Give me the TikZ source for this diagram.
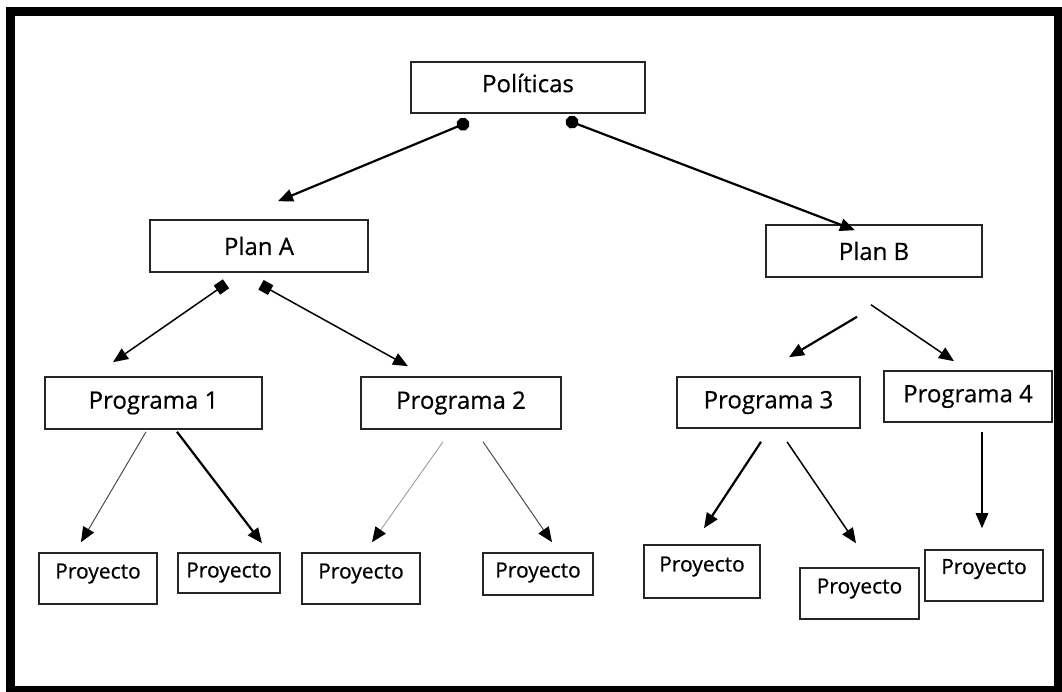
\documentclass[tikz,border=0pt]{standalone}
\usepackage{fontspec}
\setmainfont{Open Sans}[FakeBold=0.5]
\usetikzlibrary{arrows.meta}
\begin{document}
\begin{tikzpicture}[x=1pt,y=-1pt,
  box/.style={draw=black!85, line width=1.6pt, rectangle, inner sep=0pt, fill=white},
  big/.style={box, font=\fontsize{24}{28}\selectfont},
  small/.style={box, font=\fontsize{21}{25}\selectfont, text depth=15pt},
  tip/.style={-{Triangle[length=15pt,width=12.5pt,color=black]}},
  thick2/.style={line width=2.2pt},
  mid/.style={line width=1.5pt},
  thin1/.style={line width=1pt, draw=black!70},
  thin0/.style={line width=1pt, draw=black!35}]
\useasboundingbox (0,0) rectangle (1062,692);
\clip (0,0) rectangle (1062,692);
\fill[white] (0,0) rectangle (1062,692);
\draw[line width=9pt] (10.5,11.5) rectangle (1058,690);

\node[big, minimum width=234pt, minimum height=51pt, text depth=9pt] (pol) at (528,87.5) {Políticas};
\node[big, minimum width=218pt, minimum height=52pt] (planA) at (259,246) {Plan A};
\node[big, minimum width=216pt, minimum height=52pt] (planB) at (874,251) {Plan B};
\node[big, minimum width=217pt, minimum height=52pt] (prog1) at (153.5,403) {Programa 1};
\node[big, minimum width=200pt, minimum height=52pt] (prog2) at (461,403) {Programa 2};
\node[big, minimum width=183pt, minimum height=51pt] (prog3) at (768.5,402.5) {Programa 3};
\node[big, minimum width=168pt, minimum height=51pt] (prog4) at (968,396.5) {Programa 4};
\node[small, minimum width=118pt, minimum height=51pt] (pr1) at (98,578.5) {Proyecto};
\node[small, minimum width=102pt, minimum height=40pt, text depth=6pt] (pr2) at (229,573) {Proyecto};
\node[small, minimum width=118pt, minimum height=51pt] (pr3) at (361,578.5) {Proyecto};
\node[small, minimum width=110pt, minimum height=42pt, text depth=8pt] (pr4) at (538,574) {Proyecto};
\node[small, minimum width=116pt, minimum height=53pt] (pr5) at (702,571.5) {Proyecto};
\node[small, minimum width=119pt, minimum height=51pt] (pr6) at (859.5,593.5) {Proyecto};
\node[small, minimum width=118pt, minimum height=51pt, text depth=18pt] (pr7) at (984,575.5) {Proyecto};

\draw[thick2, {Circle[length=13pt]}-{Triangle[length=15pt,width=12.5pt]}]
  ([shift={(-59,8)}]pol.south) -- ([shift={(19,-18)}]planA.north);
\draw[thick2, {Circle[length=13pt]}-{Triangle[length=15pt,width=12.5pt]}]
  ([shift={(38,6)}]pol.south) -- ([shift={(-19,6)}]planB.north);
\draw[mid, {Square[length=11pt,width=11pt]}-{Triangle[length=15pt,width=12.5pt]}]
  ([shift={(-33,11)}]planA.south) -- ([shift={(-40.5,-14)}]prog1.north);
\draw[mid, {Square[length=11pt,width=11pt]}-{Triangle[length=15pt,width=12.5pt]}]
  ([shift={(2,12)}]planA.south) -- ([shift={(-53,-10)}]prog2.north);
\draw[thick2, tip] ([shift={(-17,39)}]planB.south) -- ([shift={(20.5,-19)}]prog3.north);
\draw[mid, tip] ([shift={(-3,27)}]planB.south) -- ([shift={(-14,-9)}]prog4.north);
\draw[thin1, tip] ([shift={(-7.5,2)}]prog1.south) -- ([shift={(-17,-10)}]pr1.north);
\draw[thick2, tip] ([shift={(23.5,2)}]prog1.south) -- ([shift={(33,-9)}]pr2.north);
\draw[thin0, tip] ([shift={(-18,12)}]prog2.south) -- ([shift={(11,-10)}]pr3.north);
\draw[thin1, tip] ([shift={(22,12)}]prog2.south) -- ([shift={(14,-10)}]pr4.north);
\draw[thick2, tip] ([shift={(-7.5,13)}]prog3.south) -- ([shift={(2,-16)}]pr5.north);
\draw[mid, tip] ([shift={(18.5,13)}]prog3.south) -- ([shift={(-3.5,-24)}]pr6.north);
\draw[mid, tip] ([shift={(14,9)}]prog4.south) -- ([shift={(-2,-21)}]pr7.north);
\end{tikzpicture}
\end{document}
